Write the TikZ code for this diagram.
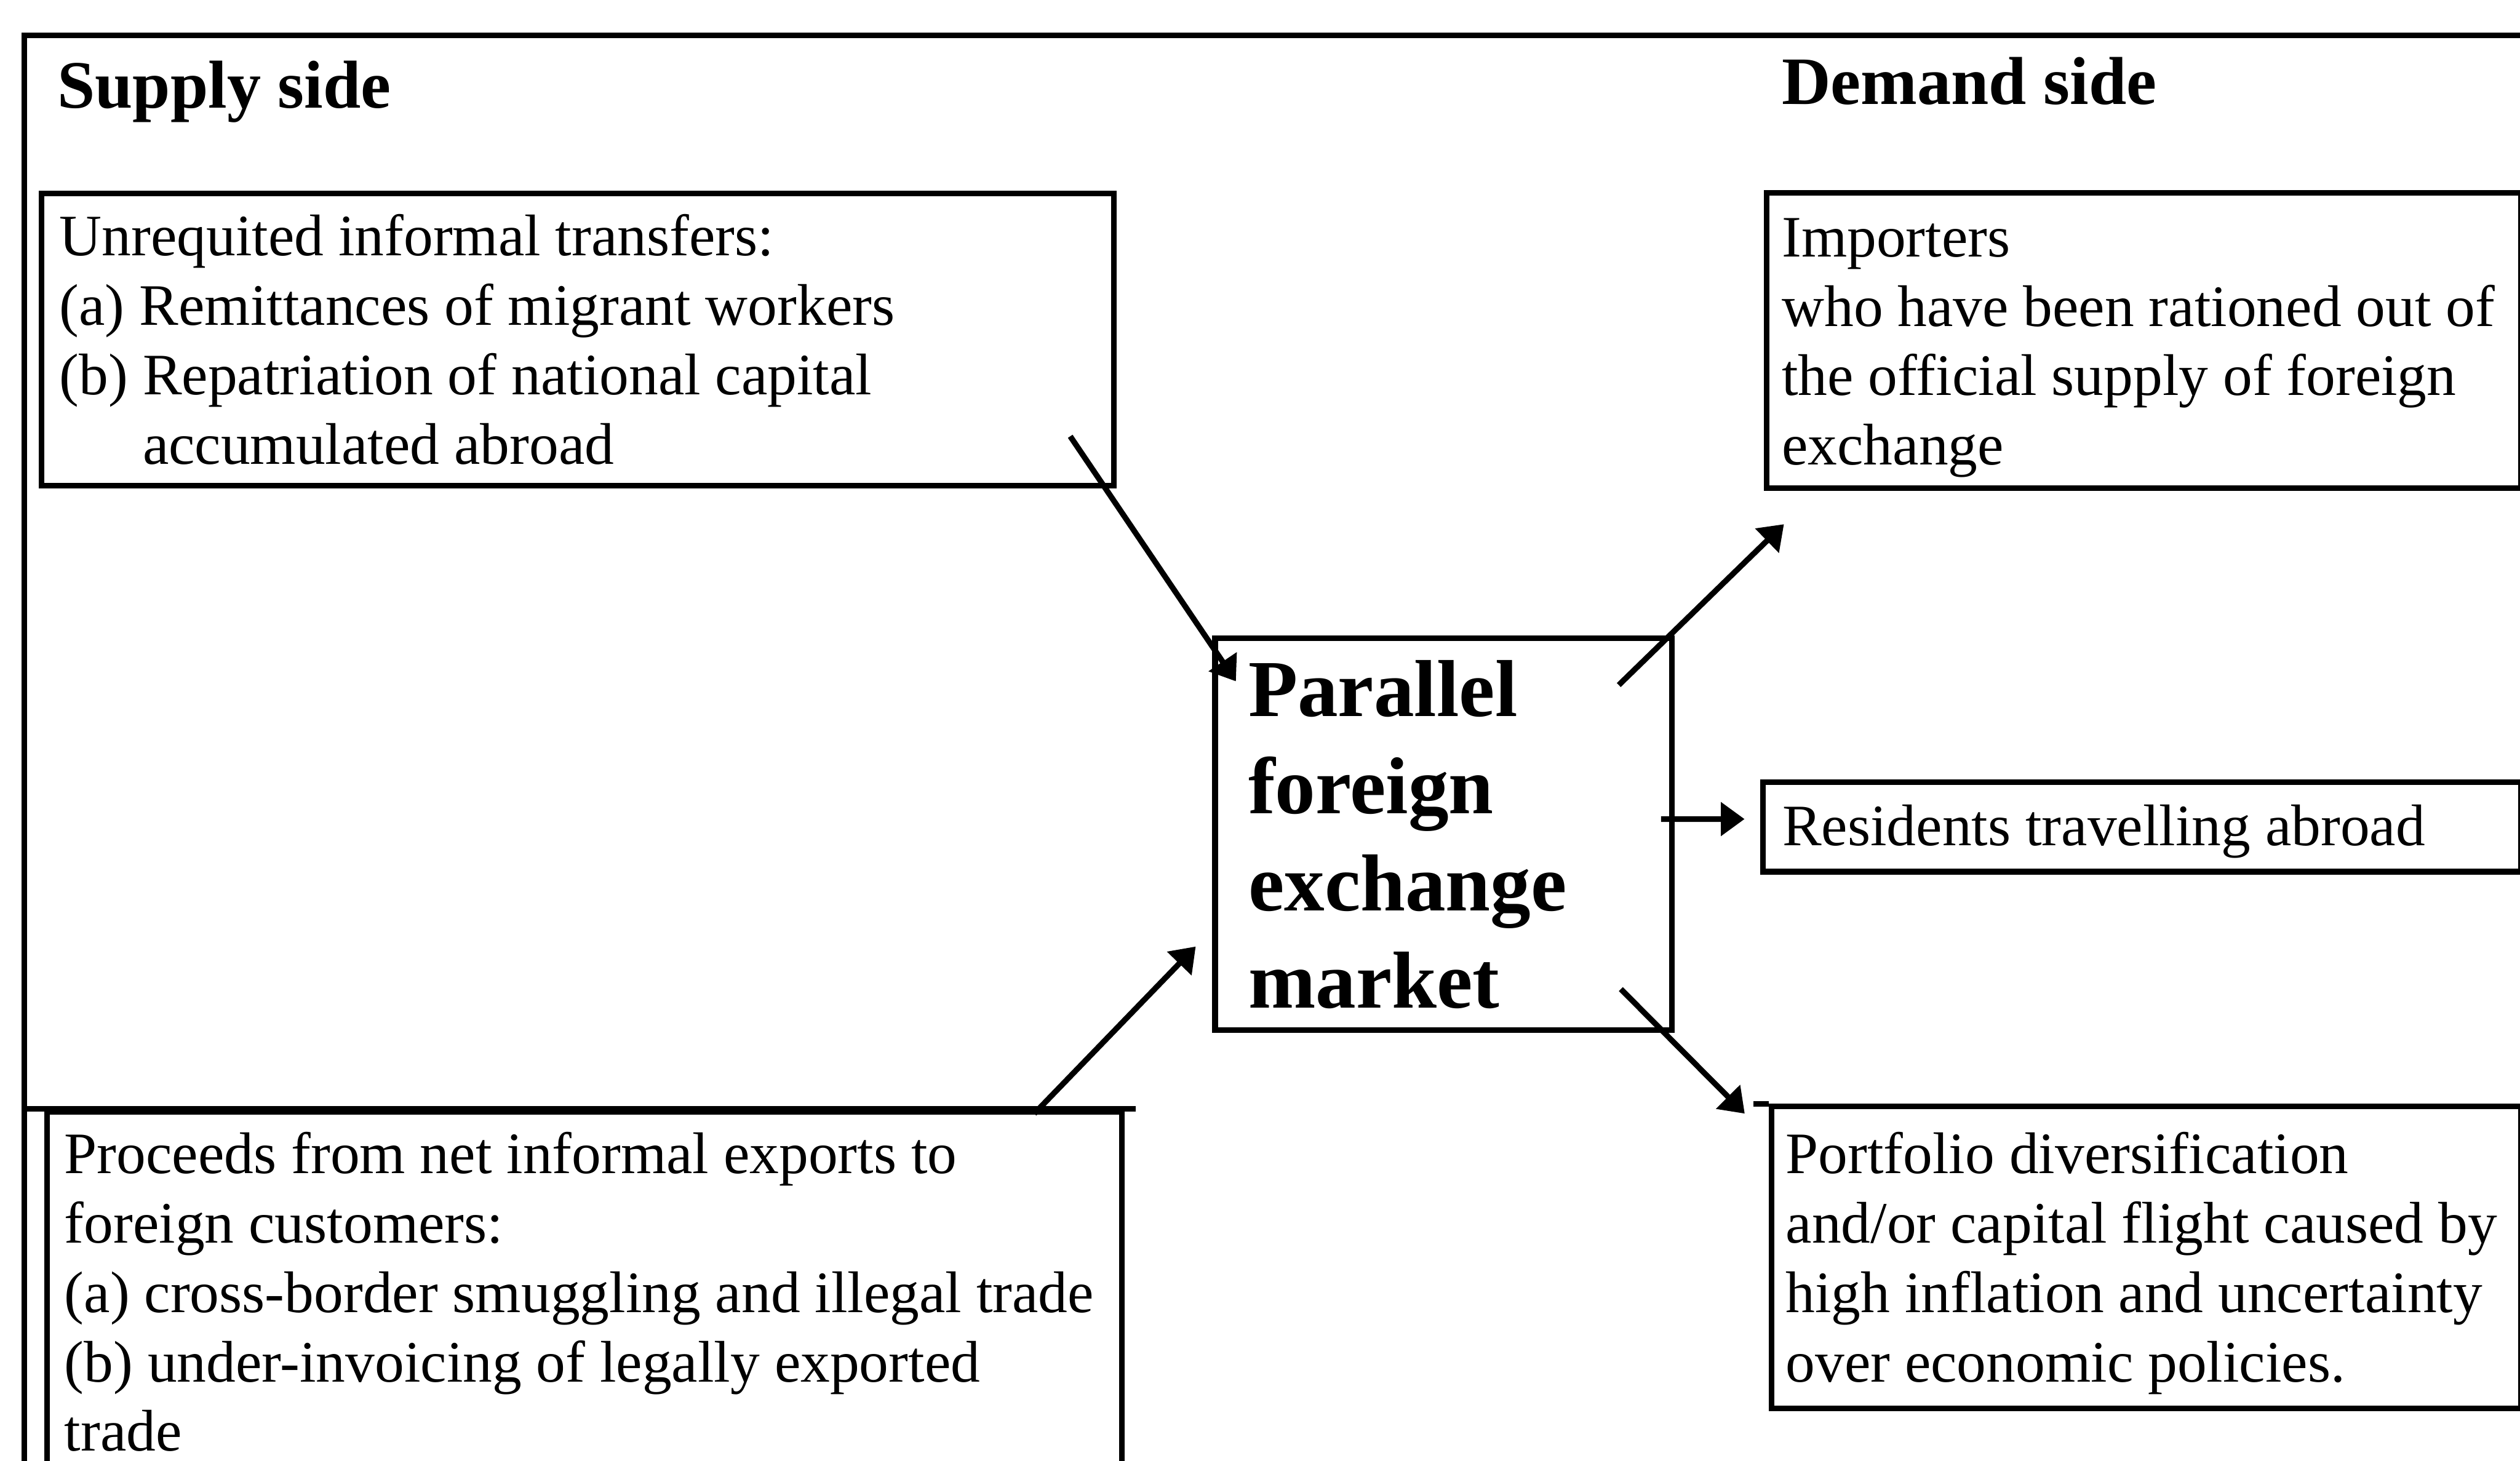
\documentclass[tikz,border=0pt]{standalone}
\usepackage{fontspec}
\setmainfont{Liberation Serif}
\usetikzlibrary{arrows.meta}

\begin{document}
\begin{tikzpicture}[line width=1pt,>={Triangle[length=4.2pt,width=5.8pt]},
    every node/.style={inner sep=0pt},
    side/.style={anchor=base west,font=\fontsize{12}{14}\selectfont\bfseries},
    box/.style={draw,anchor=north west,align=left,inner xsep=.1cm,text height=.33cm,
        font=\fontsize{10.4}{12.3}\selectfont,
        execute at begin node={\spaceskip=0pt\xspaceskip=0pt\relax}}]
    \useasboundingbox (0,0) rectangle (15.68,9.09);
    \clip (0,0) rectangle (15.68,9.09);
    \draw (.15,-.5) |- (16.5,8.87);
    \node[side] (supply) at (.34,8.42) {Supply side};
    \node[side] (demand) at (11.07,8.44) {Demand side};
    \node[box,inner xsep=.111cm,text width=6.45cm,minimum height=1.82cm] (transfers) at (.242,7.905)
        {Unrequited informal transfers:\\
         (a) Remittances of migrant workers\\
         (b) Repatriation of national capital\\
         \phantom{(b) }accumulated abroad};
    \node[box,inner xsep=.11cm,text width=6.469cm,minimum height=2.25cm,text height=.25cm] (proceeds) at (.274,2.19)
        {Proceeds from net informal exports to\\
         foreign customers:\\
         (a) cross-border smuggling and illegal trade\\
         (b) under-invoicing of legally exported\\
         trade};
    \draw ([xshift=-.124cm]proceeds.north west) -- ([xshift=.067cm]proceeds.north east);
    \node[box,inner xsep=.207cm,text width=2.428cm,minimum height=2.439cm,text height=,
        font=\fontsize{14.3}{17.2}\selectfont\bfseries] (market) at (7.543,5.135)
        {Parallel\\foreign\\exchange\\market};
    \node[box,inner xsep=.095cm,text width=4.505cm,minimum height=1.836cm] (importers) at (10.975,7.906)
        {Importers\\
         who have been rationed out of\\
         the official supply of foreign\\
         exchange};
    \node[box,inner xsep=.12cm,text width=4.477cm,minimum height=.557cm,text height=.31cm] (residents) at (10.953,4.24)
        {Residents travelling abroad};
    \node[box,inner xsep=.09cm,text width=4.486cm,minimum height=1.879cm] (portfolio) at (11.004,2.222)
        {Portfolio diversification\\
         and/or capital flight caused by\\
         high inflation and uncertainty\\
         over economic policies.};
    \draw ([xshift=-.094cm]portfolio.north west) -- (portfolio.north west);
    \draw[->] ([shift={(-.29,.325)}]transfers.south east) -- ([shift={(.147,-.285)}]market.north west);
    \draw[->] ([shift={(-.563,-.03)}]proceeds.north east) -- ([shift={(-.103,.539)}]market.south west);
    \draw[->] ([shift={(-.348,-.308)}]market.north east) -- ([shift={(.125,-.207)}]importers.south west);
    \draw[->] ([shift={(-.085,.095)}]market.east) -- ([shift={(-.098,.049)}]residents.west);
    \draw[->] ([shift={(-.335,.274)}]market.south east) -- ([shift={(-.148,-.062)}]portfolio.north west);
\end{tikzpicture}
\end{document}
